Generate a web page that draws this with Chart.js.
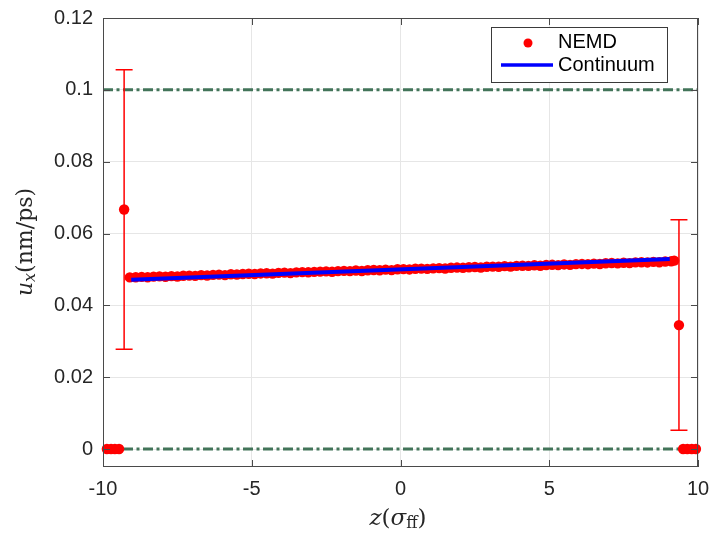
<!DOCTYPE html>
<html>
<head>
<meta charset="utf-8">
<script src="https://cdn.jsdelivr.net/npm/chart.js@4.4.1/dist/chart.umd.min.js"></script>
<style>
  html, body { margin: 0; padding: 0; background: #ffffff; }
  canvas { display: block; }
</style>
</head>
<body>
<canvas id="chart" width="714" height="540"></canvas>
<script>
// Tick positions
const xTicks = [-10, -5, 0, 5, 10];
const yTicks = [0, 0.02, 0.04, 0.06, 0.08, 0.1, 0.12];

// NEMD velocity profile across the channel (bulk region)
const nemdZ = [
  -9.1, -8.9, -8.7, -8.5, -8.3, -8.1, -7.9, -7.7, -7.5, -7.3,
  -7.1, -6.9, -6.7, -6.5, -6.3, -6.1, -5.9, -5.7, -5.5, -5.3,
  -5.1, -4.9, -4.7, -4.5, -4.3, -4.1, -3.9, -3.7, -3.5, -3.3,
  -3.1, -2.9, -2.7, -2.5, -2.3, -2.1, -1.9, -1.7, -1.5, -1.3,
  -1.1, -0.9, -0.7, -0.5, -0.3, -0.1, 0.1, 0.3, 0.5, 0.7,
  0.9, 1.1, 1.3, 1.5, 1.7, 1.9, 2.1, 2.3, 2.5, 2.7,
  2.9, 3.1, 3.3, 3.5, 3.7, 3.9, 4.1, 4.3, 4.5, 4.7,
  4.9, 5.1, 5.3, 5.5, 5.7, 5.9, 6.1, 6.3, 6.5, 6.7,
  6.9, 7.1, 7.3, 7.5, 7.7, 7.9, 8.1, 8.3, 8.5, 8.7,
  8.9, 9.1, 9.2
];
const nemdU = [
  0.04778, 0.04784, 0.04792, 0.04781, 0.04799, 0.04806, 0.04797, 0.04815, 0.04804, 0.04824,
  0.04829, 0.04822, 0.04842, 0.04831, 0.04849, 0.04857, 0.04843, 0.04866, 0.04860, 0.04872,
  0.04880, 0.04874, 0.04889, 0.04895, 0.04884, 0.04905, 0.04911, 0.04898, 0.04919, 0.04926,
  0.04920, 0.04933, 0.04939, 0.04946, 0.04934, 0.04954, 0.04959, 0.04952, 0.04971, 0.04958,
  0.04978, 0.04983, 0.04977, 0.04995, 0.04982, 0.05004, 0.05008, 0.05000, 0.05019, 0.05024,
  0.05017, 0.05031, 0.05038, 0.05026, 0.05048, 0.05052, 0.05045, 0.05062, 0.05067, 0.05055,
  0.05076, 0.05079, 0.05074, 0.05091, 0.05079, 0.05100, 0.05104, 0.05098, 0.05115, 0.05103,
  0.05124, 0.05129, 0.05121, 0.05139, 0.05127, 0.05147, 0.05153, 0.05146, 0.05163, 0.05151,
  0.05172, 0.05178, 0.05170, 0.05187, 0.05176, 0.05196, 0.05201, 0.05195, 0.05211, 0.05200,
  0.05220, 0.05226, 0.05245
];

// Near-wall NEMD bins (inside the walls, zero velocity)
const wallZ = [-9.87, -9.73, -9.6, -9.46, 9.5, 9.64, 9.79, 9.93];
const wallU = [0, 0, 0, 0, 0, 0, 0, 0];

// First fluid layer next to each wall, with error bars
const layerZ = [-9.29, 9.36];
const layerU = [0.0667, 0.0345];
const layerErr = [0.0389, 0.0293];

// Continuum solution
const contZ = [-9.05, 9.05];
const contU = [0.0471, 0.0529];

// Wall velocities (dash-dot reference lines)
const wallLineZ = [-10, 10];
const wallVelocities = [0.1, 0];

const nemdPoints = []
  .concat(wallZ.map((z, i) => ({ x: z, y: wallU[i] })))
  .concat(layerZ.map((z, i) => ({ x: z, y: layerU[i] })))
  .concat(nemdZ.map((z, i) => ({ x: z, y: nemdU[i] })));

const wallLineDatasets = wallVelocities.map(v => ({
  label: 'wall ' + v,
  data: wallLineZ.map(z => ({ x: z, y: v })),
  showLine: true,
  borderColor: '#427459',
  borderWidth: 3,
  borderDash: [10, 3.5, 3, 3.5],
  pointRadius: 0,
  fill: false,
  order: 3
}));

// Error bars for the first fluid layers
const errorBarPlugin = {
  id: 'errorBars',
  afterDatasetsDraw(chart) {
    const { ctx, scales: { x, y } } = chart;
    ctx.save();
    ctx.strokeStyle = '#ff0000';
    ctx.lineWidth = 1.5;
    layerZ.forEach((z, i) => {
      const px = x.getPixelForValue(z);
      const top = y.getPixelForValue(layerU[i] + layerErr[i]);
      const bot = y.getPixelForValue(layerU[i] - layerErr[i]);
      const cap = 8.5;
      ctx.beginPath();
      ctx.moveTo(px, top); ctx.lineTo(px, bot);
      ctx.moveTo(px - cap, top); ctx.lineTo(px + cap, top);
      ctx.moveTo(px - cap, bot); ctx.lineTo(px + cap, bot);
      ctx.stroke();
    });
    ctx.restore();
  }
};

// Axes box with inward ticks, axis titles and legend
const framePlugin = {
  id: 'frame',
  afterDraw(chart) {
    const { ctx, chartArea: a, scales: { x, y } } = chart;
    ctx.save();
    ctx.strokeStyle = '#4a4a4a';
    ctx.lineWidth = 1;
    ctx.strokeRect(a.left + 0.5, a.top + 0.5, a.right - a.left - 1, a.bottom - a.top - 1);
    const tl = 7;
    ctx.beginPath();
    xTicks.forEach(v => {
      const px = Math.round(x.getPixelForValue(v)) + 0.5;
      ctx.moveTo(px, a.bottom); ctx.lineTo(px, a.bottom - tl);
      ctx.moveTo(px, a.top); ctx.lineTo(px, a.top + tl);
    });
    yTicks.forEach(v => {
      const py = Math.round(y.getPixelForValue(v)) + 0.5;
      ctx.moveTo(a.left, py); ctx.lineTo(a.left + tl, py);
      ctx.moveTo(a.right, py); ctx.lineTo(a.right - tl, py);
    });
    ctx.stroke();

    // Axis titles
    ctx.fillStyle = '#262626';
    ctx.textBaseline = 'middle';
    const serif = '"DejaVu Serif", "Liberation Serif", serif';
    const drawRuns = (runs, cx, cy) => {
      let total = 0;
      runs.forEach(r => { ctx.font = r.font; r.w = ctx.measureText(r.t).width; total += r.w; });
      let xp = cx - total / 2;
      runs.forEach(r => {
        ctx.font = r.font;
        ctx.fillText(r.t, xp, cy + (r.dy || 0));
        xp += r.w;
      });
    };
    // y title: u_x(nm/ps)
    ctx.save();
    ctx.translate(26, 242);
    ctx.rotate(-Math.PI / 2);
    drawRuns([
      { t: 'u', font: 'italic 22px ' + serif },
      { t: 'x', font: 'italic 16px ' + serif, dy: 5 },
      { t: '(nm/ps)', font: '22px ' + serif }
    ], 0, 0);
    ctx.restore();
    // x title: z(σ_ff)
    drawRuns([
      { t: 'z', font: 'italic 23px ' + serif },
      { t: '(', font: '23px ' + serif },
      { t: 'σ', font: 'italic 23px ' + serif },
      { t: 'ff', font: '16px ' + serif, dy: 5 },
      { t: ')', font: '23px ' + serif }
    ], 398, 519);

    // Legend
    const lx = 491, ly = 27, lw = 176, lh = 55;
    ctx.fillStyle = '#ffffff';
    ctx.fillRect(lx, ly, lw, lh);
    ctx.strokeStyle = '#3a3a3a';
    ctx.lineWidth = 1;
    ctx.strokeRect(lx + 0.5, ly + 0.5, lw, lh);
    ctx.fillStyle = '#ff0000';
    ctx.beginPath();
    ctx.arc(528, 43, 4.5, 0, Math.PI * 2);
    ctx.fill();
    ctx.strokeStyle = '#0000ff';
    ctx.lineWidth = 3.5;
    ctx.beginPath();
    ctx.moveTo(501, 65); ctx.lineTo(553, 65);
    ctx.stroke();
    ctx.fillStyle = '#000000';
    ctx.font = '20px "Liberation Sans", Arial, sans-serif';
    ctx.textBaseline = 'middle';
    ctx.fillText('NEMD', 558, 42);
    ctx.fillText('Continuum', 558, 65);
    ctx.restore();
  }
};

new Chart(document.getElementById('chart'), {
  type: 'scatter',
  data: {
    datasets: [
      {
        label: 'NEMD',
        data: nemdPoints,
        backgroundColor: '#ff0000',
        borderColor: '#ff0000',
        borderWidth: 0,
        pointRadius: 5.2,
        order: 2
      },
      {
        label: 'Continuum',
        data: contZ.map((z, i) => ({ x: z, y: contU[i] })),
        showLine: true,
        borderColor: '#0000ff',
        borderWidth: 4,
        pointRadius: 0,
        fill: false,
        order: 1
      },
      ...wallLineDatasets
    ]
  },
  options: {
    responsive: false,
    animation: false,
    clip: false,
    layout: { padding: { top: 18, right: 16, left: 0, bottom: 0 } },
    plugins: { legend: { display: false }, tooltip: { enabled: false } },
    scales: {
      x: {
        type: 'linear',
        min: -10,
        max: 10,
        afterBuildTicks: s => { s.ticks = xTicks.map(v => ({ value: v })); },
        afterFit: s => { s.height = 73; s.paddingLeft = 0; s.paddingRight = 0; },
        border: { display: false },
        grid: { color: '#e6e6e6', drawTicks: false, lineWidth: 1 },
        ticks: {
          padding: 10,
          color: '#262626',
          font: { family: '"Liberation Sans", Arial, sans-serif', size: 20 },
          callback: v => String(v)
        }
      },
      y: {
        type: 'linear',
        min: -0.005,
        max: 0.12,
        afterBuildTicks: s => { s.ticks = yTicks.map(v => ({ value: v })); },
        afterFit: s => { s.width = 103; s.paddingTop = 0; s.paddingBottom = 0; },
        border: { display: false },
        grid: { color: '#e6e6e6', drawTicks: false, lineWidth: 1 },
        ticks: {
          padding: 10,
          color: '#262626',
          font: { family: '"Liberation Sans", Arial, sans-serif', size: 20 },
          callback: v => String(Number(v.toFixed(3)))
        }
      }
    }
  },
  plugins: [errorBarPlugin, framePlugin]
});
</script>
</body>
</html>
